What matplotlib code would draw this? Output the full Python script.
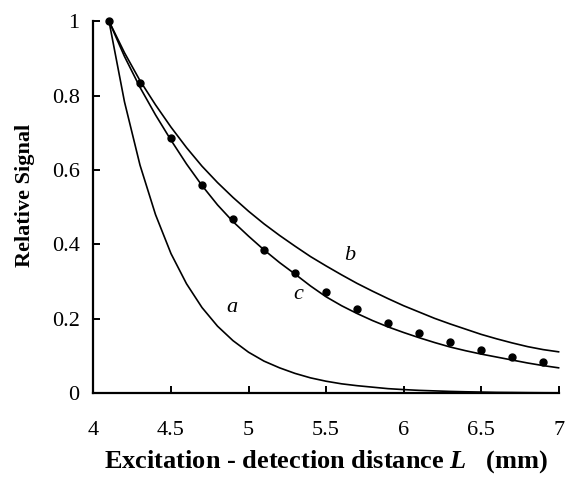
import matplotlib
matplotlib.use("Agg")
import matplotlib.pyplot as plt

plt.rcParams['font.family'] = ['Liberation Serif']
plt.rcParams['mathtext.fontset'] = 'custom'
plt.rcParams['mathtext.rm'] = 'Liberation Serif'
plt.rcParams['mathtext.it'] = 'Liberation Serif:italic'
plt.rcParams['mathtext.bf'] = 'Liberation Serif:bold'
plt.rcParams['mathtext.bfit'] = 'Liberation Serif:bold:italic'

# Measured data points (curve c fit)
pts_x = [4.1, 4.3, 4.5, 4.7, 4.9, 5.1, 5.3, 5.5, 5.7, 5.9, 6.1, 6.3, 6.5, 6.7, 6.9]
pts_y = [1.0, 0.833, 0.686, 0.559, 0.469, 0.384, 0.324, 0.271, 0.226, 0.189, 0.162, 0.138, 0.116, 0.097, 0.084]

# Curves at 0.1 mm steps
curve_x = [4.1, 4.2, 4.3, 4.4, 4.5, 4.6, 4.7, 4.8, 4.9, 5.0,
           5.1, 5.2, 5.3, 5.4, 5.5, 5.6, 5.7, 5.8, 5.9, 6.0,
           6.1, 6.2, 6.3, 6.4, 6.5, 6.6, 6.7, 6.8, 6.9, 7.0]
curve_a = [1.0, 0.783, 0.613, 0.480, 0.375, 0.294, 0.230, 0.180, 0.141, 0.110,
           0.086, 0.068, 0.053, 0.041, 0.032, 0.025, 0.020, 0.016, 0.012, 0.0095,
           0.0074, 0.006, 0.0046, 0.0036, 0.0028, 0.002, 0.0017, 0.0013, 0.001, 0.0008]
curve_b = [1.0, 0.915, 0.840, 0.775, 0.715, 0.660, 0.610, 0.566, 0.526, 0.489,
           0.455, 0.424, 0.395, 0.367, 0.342, 0.318, 0.295, 0.274, 0.254, 0.235,
           0.218, 0.201, 0.186, 0.172, 0.158, 0.146, 0.135, 0.125, 0.117, 0.111]
curve_c = [1.0, 0.905, 0.822, 0.748, 0.680, 0.616, 0.558, 0.506, 0.461, 0.422,
           0.385, 0.351, 0.320, 0.288, 0.259, 0.235, 0.214, 0.195, 0.178, 0.163,
           0.149, 0.136, 0.124, 0.114, 0.105, 0.097, 0.089, 0.081, 0.074, 0.068]

xticks = [4, 4.5, 5, 5.5, 6, 6.5, 7]
xticklabels = ['4', '4.5', '5', '5.5', '6', '6.5', '7']
yticks = [0, 0.2, 0.4, 0.6, 0.8, 1]
yticklabels = ['0', '0.2', '0.4', '0.6', '0.8', '1']

fig = plt.figure(figsize=(5.7, 4.8), dpi=100)
ax = fig.add_axes([0.164, 0.181, 0.816, 0.775])

for cy in (curve_a, curve_b, curve_c):
    ax.plot(curve_x, cy, color='black', lw=1.2, clip_on=False)
ax.plot(pts_x, pts_y, 'o', color='black', ms=5, clip_on=False)

ax.text(4.89, 0.23, 'a', fontsize=16, style='italic', ha='center', va='center')
ax.text(5.65, 0.37, 'b', fontsize=16, style='italic', ha='center', va='center')
ax.text(5.32, 0.265, 'c', fontsize=16, style='italic', ha='center', va='center')

ax.set_xlim(4, 7)
ax.set_ylim(0, 1)
ax.set_xticks(xticks)
ax.set_xticklabels(xticklabels)
ax.set_yticks(yticks)
ax.set_yticklabels(yticklabels)
ax.spines['top'].set_visible(False)
ax.spines['right'].set_visible(False)
for s in ('left', 'bottom'):
    ax.spines[s].set_linewidth(1.6)
ax.tick_params(direction='in', length=5, width=1.4, labelsize=16)
ax.tick_params(axis='x', pad=20)
ax.tick_params(axis='y', pad=10)

ax.set_xlabel(r'Excitation - detection distance $\mathbfit{L}$   (mm)', fontsize=19, fontweight='bold', labelpad=6)
ax.set_ylabel('Relative Signal', fontsize=16, fontweight='bold')
ax.yaxis.set_label_coords(-0.126, 0.532)

fig.savefig('out.png', dpi=100)
